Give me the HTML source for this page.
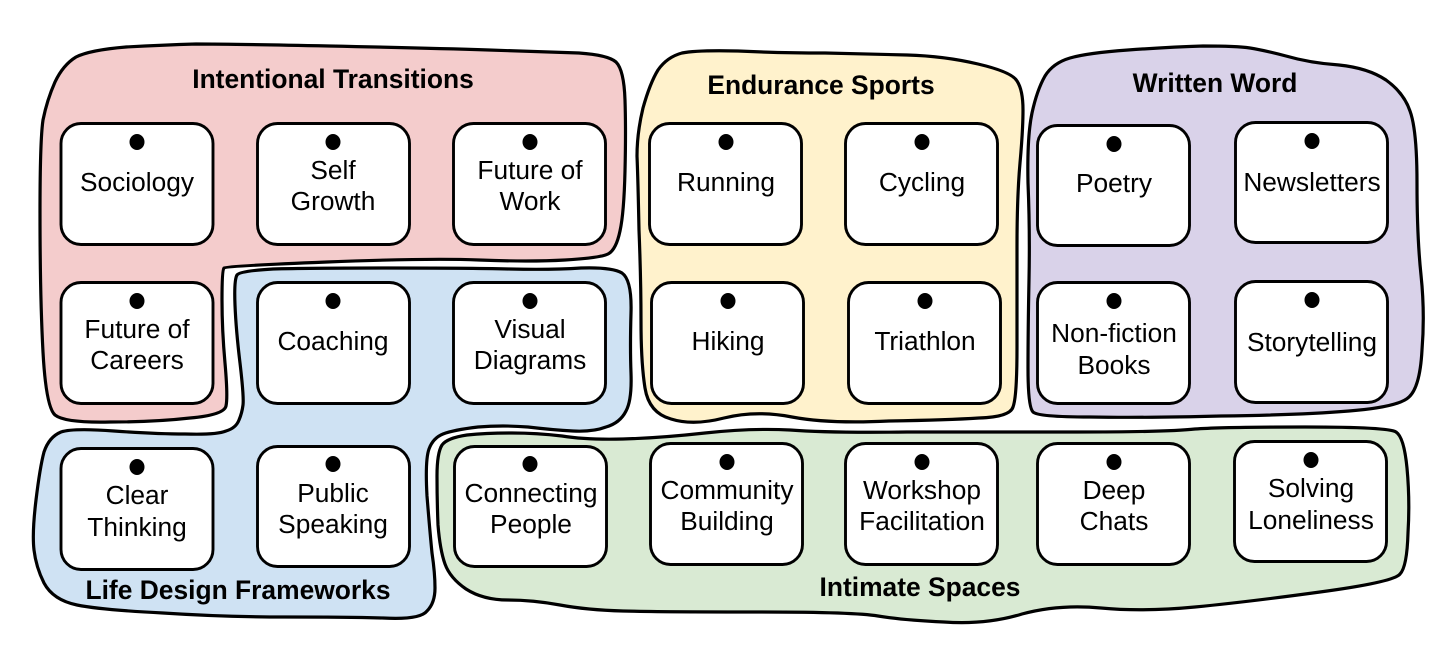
<!DOCTYPE html>
<html>
<head>
<meta charset="utf-8">
<style>
html,body{margin:0;padding:0;background:#fff;width:1456px;height:651px;overflow:hidden}
svg{display:block}
text{font-family:"Liberation Sans",sans-serif;fill:#000;text-anchor:middle}
.t{font-size:26.4px;font-weight:700}
.c{font-size:26.3px}
.r{fill:#fff;stroke:#000;stroke-width:2.9}
.g{stroke:#000;stroke-width:3.2;stroke-linejoin:round}
</style>
</head>
<body>
<svg width="1456" height="651" viewBox="0 0 1456 651" xmlns="http://www.w3.org/2000/svg">
<rect width="1456" height="651" fill="#fff"/>
<path class="g" fill="#f4cccc" d="M76,57 Q90,50 126,47 Q163,45 196,44 Q230,44 329,46 Q428,48 489,50 Q550,52 579,53 Q608,55 616,62 Q624,70 625,100 Q626,130 625,171 Q624,213 620,231 Q616,250 608,254 Q600,258 565,260 Q530,262 479,260 Q428,258 327,262 Q226,266 224,268 Q222,270 222,300 Q222,330 225,363 Q228,397 226,406 Q224,415 190,418 Q155,422 110,422 Q65,423 55,415 Q46,407 43,352 Q40,297 40,213 Q40,140 43,120 Q47,100 55,82 Q63,65 76,57 Z"/>
<path class="g" fill="#cfe2f3" d="M237,275 Q240,271 273,269 Q306,268 387,268 Q469,268 510,269 Q551,270 581,268 Q612,267 622,273 Q632,280 631,313 Q630,347 631,373 Q632,400 626,411 Q620,423 606,427 Q593,432 573,431 Q553,430 528,427 Q503,425 478,427 Q453,430 443,434 Q433,438 429,449 Q425,460 427,496 Q430,533 432,553 Q435,573 435,588 Q435,603 427,611 Q420,620 383,618 Q346,617 285,617 Q224,617 163,613 Q102,610 77,605 Q53,600 44,583 Q36,567 34,550 Q32,533 36,500 Q40,467 44,452 Q49,437 61,432 Q73,428 114,431 Q155,434 185,434 Q216,435 226,431 Q236,428 239,420 Q242,413 243,405 Q244,397 240,363 Q236,330 235,305 Q234,280 237,275 Z"/>
<path class="g" fill="#fff2cc" d="M682,53 Q697,50 738,51 Q780,53 825,53 Q870,54 907,55 Q944,56 978,64 Q1012,72 1017,81 Q1023,90 1023,110 Q1023,130 1020,163 Q1017,197 1017,247 Q1017,297 1017,347 Q1017,397 1013,407 Q1010,417 979,418 Q949,420 889,421 Q829,424 792,417 Q756,410 724,418 Q693,426 671,419 Q649,413 645,388 Q641,363 641,321 Q641,280 639,230 Q638,180 637,156 Q637,133 643,108 Q650,83 658,70 Q667,57 682,53 Z"/>
<path class="g" fill="#d9d2e9" d="M1070,58 Q1087,53 1128,50 Q1170,47 1203,46 Q1237,46 1250,48 Q1263,50 1286,56 Q1310,63 1339,65 Q1368,68 1386,80 Q1404,93 1410,111 Q1417,130 1417,183 Q1417,237 1421,275 Q1425,313 1422,350 Q1420,387 1409,397 Q1399,407 1349,411 Q1300,415 1221,416 Q1143,418 1090,417 Q1038,417 1033,412 Q1028,407 1028,368 Q1028,330 1029,280 Q1030,230 1028,183 Q1027,137 1032,113 Q1037,90 1045,76 Q1053,63 1070,58 Z"/>
<path class="g" fill="#d9ead3" d="M442,445 Q447,438 467,435 Q487,433 512,433 Q537,433 562,436 Q587,440 623,439 Q660,438 705,433 Q751,428 790,430 Q829,433 907,432 Q986,432 1077,432 Q1169,432 1195,429 Q1221,427 1305,427 Q1389,427 1396,432 Q1404,437 1407,468 Q1410,500 1408,533 Q1407,567 1400,574 Q1394,582 1320,592 Q1247,602 1195,607 Q1143,612 1101,608 Q1059,604 1022,614 Q986,625 944,622 Q902,620 878,616 Q855,612 757,612 Q660,612 623,611 Q587,610 560,605 Q533,600 508,600 Q483,600 466,589 Q450,578 445,564 Q440,550 438,525 Q437,500 437,476 Q437,453 442,445 Z"/>

<text class="t" x="333" y="88">Intentional Transitions</text>
<text class="t" x="821" y="94">Endurance Sports</text>
<text class="t" x="1215" y="92">Written Word</text>
<text class="t" x="238" y="599">Life Design Frameworks</text>
<text class="t" x="920" y="596">Intimate Spaces</text>

<rect class="r" x="61" y="123.5" width="152" height="121" rx="20"/><ellipse cx="137" cy="142" rx="7.5" ry="8"/><text class="c" x="137" y="191">Sociology</text>
<rect class="r" x="257.5" y="123.5" width="152" height="121" rx="20"/><ellipse cx="333" cy="142" rx="7.5" ry="8"/><text class="c" x="333" y="179">Self</text><text class="c" x="333" y="210">Growth</text>
<rect class="r" x="453.5" y="123.5" width="152" height="121" rx="20"/><ellipse cx="530" cy="142" rx="7.5" ry="8"/><text class="c" x="530" y="179">Future of</text><text class="c" x="530" y="210">Work</text>
<rect class="r" x="649.5" y="123.5" width="152" height="121" rx="20"/><ellipse cx="726" cy="142" rx="7.5" ry="8"/><text class="c" x="726" y="191">Running</text>
<rect class="r" x="845.5" y="123.5" width="152" height="121" rx="20"/><ellipse cx="922" cy="142" rx="7.5" ry="8"/><text class="c" x="922" y="191">Cycling</text>
<rect class="r" x="1037.5" y="125.5" width="152" height="120" rx="20"/><ellipse cx="1114" cy="144" rx="7.5" ry="8"/><text class="c" x="1114" y="192">Poetry</text>
<rect class="r" x="1235.5" y="122.5" width="152" height="120" rx="20"/><ellipse cx="1312" cy="141" rx="7.5" ry="8"/><text class="c" x="1312" y="191">Newsletters</text>

<rect class="r" x="61" y="282.5" width="152" height="121" rx="20"/><ellipse cx="137" cy="301" rx="7.5" ry="8"/><text class="c" x="137" y="338">Future of</text><text class="c" x="137" y="369">Careers</text>
<rect class="r" x="257.5" y="282.5" width="152" height="121" rx="20"/><ellipse cx="333" cy="301" rx="7.5" ry="8"/><text class="c" x="333" y="350">Coaching</text>
<rect class="r" x="453.5" y="282.5" width="152" height="121" rx="20"/><ellipse cx="530" cy="301" rx="7.5" ry="8"/><text class="c" x="530" y="338">Visual</text><text class="c" x="530" y="369">Diagrams</text>
<rect class="r" x="651.5" y="282.5" width="152" height="121" rx="20"/><ellipse cx="728" cy="301" rx="7.5" ry="8"/><text class="c" x="728" y="350">Hiking</text>
<rect class="r" x="848.5" y="282.5" width="152" height="121" rx="20"/><ellipse cx="925" cy="301" rx="7.5" ry="8"/><text class="c" x="925" y="350">Triathlon</text>
<rect class="r" x="1037.5" y="282.5" width="152" height="121" rx="20"/><ellipse cx="1114" cy="301" rx="7.5" ry="8"/><text class="c" x="1114" y="342">Non-fiction</text><text class="c" x="1114" y="374">Books</text>
<rect class="r" x="1235.5" y="281.5" width="152" height="121" rx="20"/><ellipse cx="1312" cy="300" rx="7.5" ry="8"/><text class="c" x="1312" y="351">Storytelling</text>

<rect class="r" x="61" y="448.5" width="152" height="121" rx="20"/><ellipse cx="137" cy="467" rx="7.5" ry="8"/><text class="c" x="137" y="504">Clear</text><text class="c" x="137" y="536">Thinking</text>
<rect class="r" x="257.5" y="446.5" width="152" height="120" rx="20"/><ellipse cx="333" cy="464" rx="7.5" ry="8"/><text class="c" x="333" y="502">Public</text><text class="c" x="333" y="533">Speaking</text>
<rect class="r" x="454.5" y="446.5" width="152" height="120" rx="20"/><ellipse cx="530" cy="464" rx="7.5" ry="8"/><text class="c" x="531" y="502">Connecting</text><text class="c" x="531" y="533">People</text>
<rect class="r" x="650.5" y="443.5" width="152" height="121" rx="20"/><ellipse cx="727" cy="462" rx="7.5" ry="8"/><text class="c" x="727" y="499">Community</text><text class="c" x="727" y="530">Building</text>
<rect class="r" x="845.5" y="443.5" width="152" height="121" rx="20"/><ellipse cx="922" cy="462" rx="7.5" ry="8"/><text class="c" x="922" y="499">Workshop</text><text class="c" x="922" y="530">Facilitation</text>
<rect class="r" x="1037.5" y="443.5" width="152" height="121" rx="20"/><ellipse cx="1114" cy="462" rx="7.5" ry="8"/><text class="c" x="1114" y="499">Deep</text><text class="c" x="1114" y="530">Chats</text>
<rect class="r" x="1234.5" y="441.5" width="152" height="120" rx="20"/><ellipse cx="1311" cy="460" rx="7.5" ry="8"/><text class="c" x="1311" y="497">Solving</text><text class="c" x="1311" y="529">Loneliness</text>
</svg>
</body>
</html>
